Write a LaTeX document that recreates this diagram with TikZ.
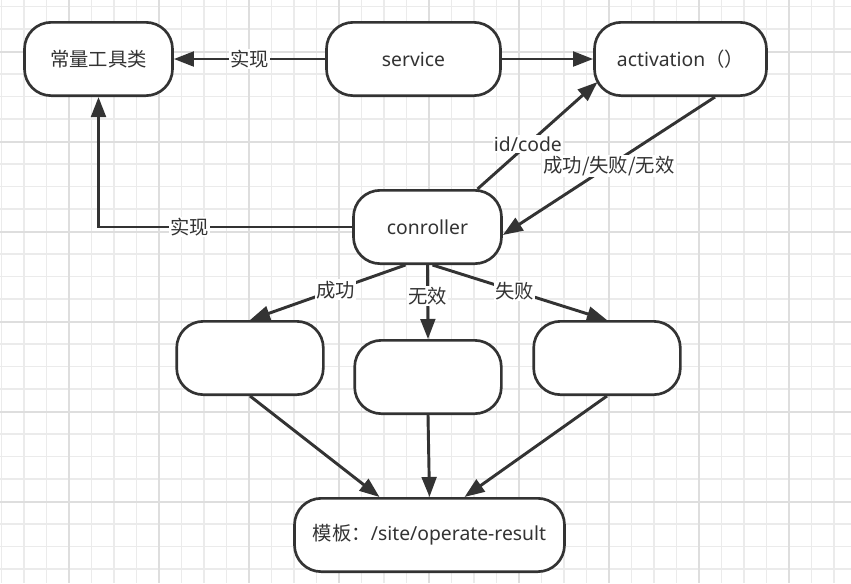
\documentclass[tikz,border=0pt]{standalone}
\usepackage{fontspec}
\setmainfont{Noto Sans}
\newfontfamily\cjk{Noto Sans CJK SC}
\usetikzlibrary{arrows.meta, calc}
\definecolor{linegray}{HTML}{333333}
\definecolor{gridminor}{HTML}{EBEBEB}
\definecolor{gridmajor}{HTML}{DEDEDE}

\begin{document}
\begin{tikzpicture}[
    x=0.75pt, y=-0.75pt,    % 1単位 = 1px（下向きが正）
    line width=2.2pt,       % 矢印の線を太めにする
    >={Triangle[length=15pt, width=11pt]},
    font=\fontsize{14.5}{17}\selectfont,
    color=linegray,
    block/.style={draw, rectangle, rounded corners=20pt, line width=2pt, fill=white, minimum height=55pt},
    lbl/.style={fill=white, inner sep=1pt}
]
    \useasboundingbox (0,0) rectangle (851,583);

    % --- 背景のグリッド ---
    \foreach \gx in {1.5,24,...,851} \draw[gridminor, line width=1.1pt] (\gx,0) -- (\gx,583);
    \foreach \gy in {6.7,29.2,...,583} \draw[gridminor, line width=1.1pt] (0,\gy) -- (851,\gy);
    \foreach \gx in {69,159,...,851} \draw[gridmajor, line width=1.3pt] (\gx,0) -- (\gx,583);
    \foreach \gy in {51.7,141.7,...,583} \draw[gridmajor, line width=1.3pt] (0,\gy) -- (851,\gy);

    % --- 1段目 ---
    \node [block, minimum width=111pt] (konst) at (98.5,59) {\cjk 常量工具类};
    \node [block, minimum width=130.5pt] (service) at (413.5,59) {service};
    \node [block, minimum width=129pt] (activation) at (680.5,59) {activation{\cjk （）}};

    % --- 2段目 ---
    \node [block, minimum width=111pt] (ctrl) at (427.5,227) {conroller};

    % --- 3段目（中身なし） ---
    \node [block, minimum width=110pt] (okbox) at (250,358) {};
    \node [block, minimum width=110pt] (badbox) at (428,377) {};
    \node [block, minimum width=110pt] (ngbox) at (607,358) {};

    % --- 4段目 ---
    \node [block, minimum width=202.5pt] (result) at (429.5,535) {{\cjk 模板：}/site/operate-result};

    % --- 上の矢印 ---
    \draw [->] (service) -- node[lbl] {\cjk 实现} (konst);
    \draw [->] (service) -- (activation);
    \draw [->] (ctrl) -| node[lbl, pos=0.32] {\cjk 实现} (konst);
    \draw [->] ($(ctrl.north)+(50,0)$) -- node[lbl, pos=0.42] {id/code} ($(activation)+(-83,23)$);
    \draw [->] ($(activation.south)+(34.5,0)$) -- node[lbl, pos=0.5] {\cjk 成功/失败/无效} ($(ctrl.east)+(0,8)$);

    % --- 分岐 ---
    \draw [->] ($(ctrl.south)+(-22,0)$) -- node[lbl, pos=0.45] {\cjk 成功} (okbox.north);
    \draw [->] (ctrl.south) -- node[lbl, pos=0.42] {\cjk 无效} (badbox.north);
    \draw [->] ($(ctrl.south)+(5,0)$) -- node[lbl, pos=0.47] {\cjk 失败} (ngbox.north);

    % --- 合流 ---
    \draw [->] (okbox.south) -- ($(result.north)+(-50,0)$);
    \draw [->] (badbox.south) -- (result.north);
    \draw [->] (ngbox.south) -- ($(result.north)+(35,0)$);

\end{tikzpicture}
\end{document}
